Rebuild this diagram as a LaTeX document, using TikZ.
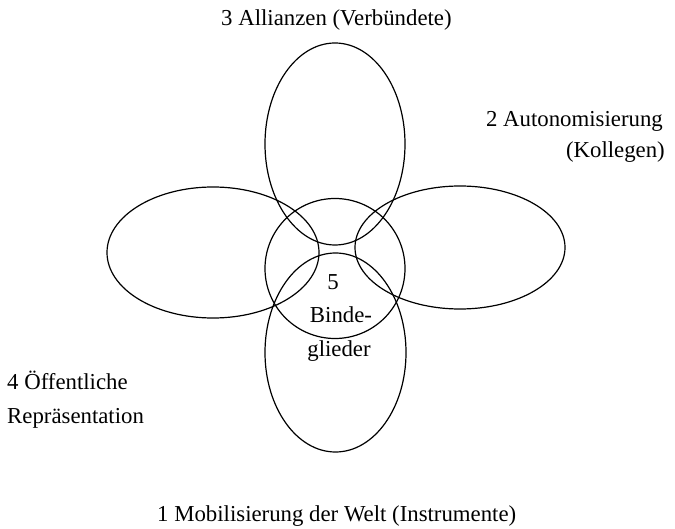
\documentclass[tikz,border=0pt]{standalone}
\usepackage{fontspec}
\setmainfont{Liberation Serif}
\begin{document}
\begin{tikzpicture}[x=1pt,y=-1pt,
  ring/.style={draw=black,line width=1.2pt},
  lbl/.style={inner sep=0pt,font=\fontsize{22.8}{32}\selectfont}]
\useasboundingbox (0,0) rectangle (675,529);
% ellipses and centre circle
\draw[ring] (335,144) ellipse [x radius=70pt, y radius=101pt];
\draw[ring] (335.5,352.5) ellipse [x radius=70.5pt, y radius=99.5pt];
\draw[ring] (213,252.5) ellipse [x radius=106pt, y radius=65.5pt];
\draw[ring] (460,247.5) ellipse [x radius=105pt, y radius=61.5pt];
\draw[ring] (335,268.5) circle [radius=70pt];
% labels
\node[lbl,anchor=base west] (t3) at (221,26) {3 Allianzen (Verbündete)};
\node[lbl,anchor=base east] (t2a) at (663,127) {2 Autonomisierung};
\node[lbl,anchor=base east] (t2b) at (665,158) {(Kollegen)};
\node[lbl,anchor=base west] (t4a) at (7,390) {4 Öffentliche};
\node[lbl,anchor=base west] (t4b) at (7,423) {Repräsentation};
\node[lbl,anchor=base west] (t1) at (157,521) {1 Mobilisierung der Welt (Instrumente)};
\node[lbl,anchor=base] (t5a) at (333,290) {5};
\node[lbl,anchor=base] (t5b) at (341,323) {Binde-};
\node[lbl,anchor=base] (t5c) at (339,356) {glieder};
\end{tikzpicture}
\end{document}
